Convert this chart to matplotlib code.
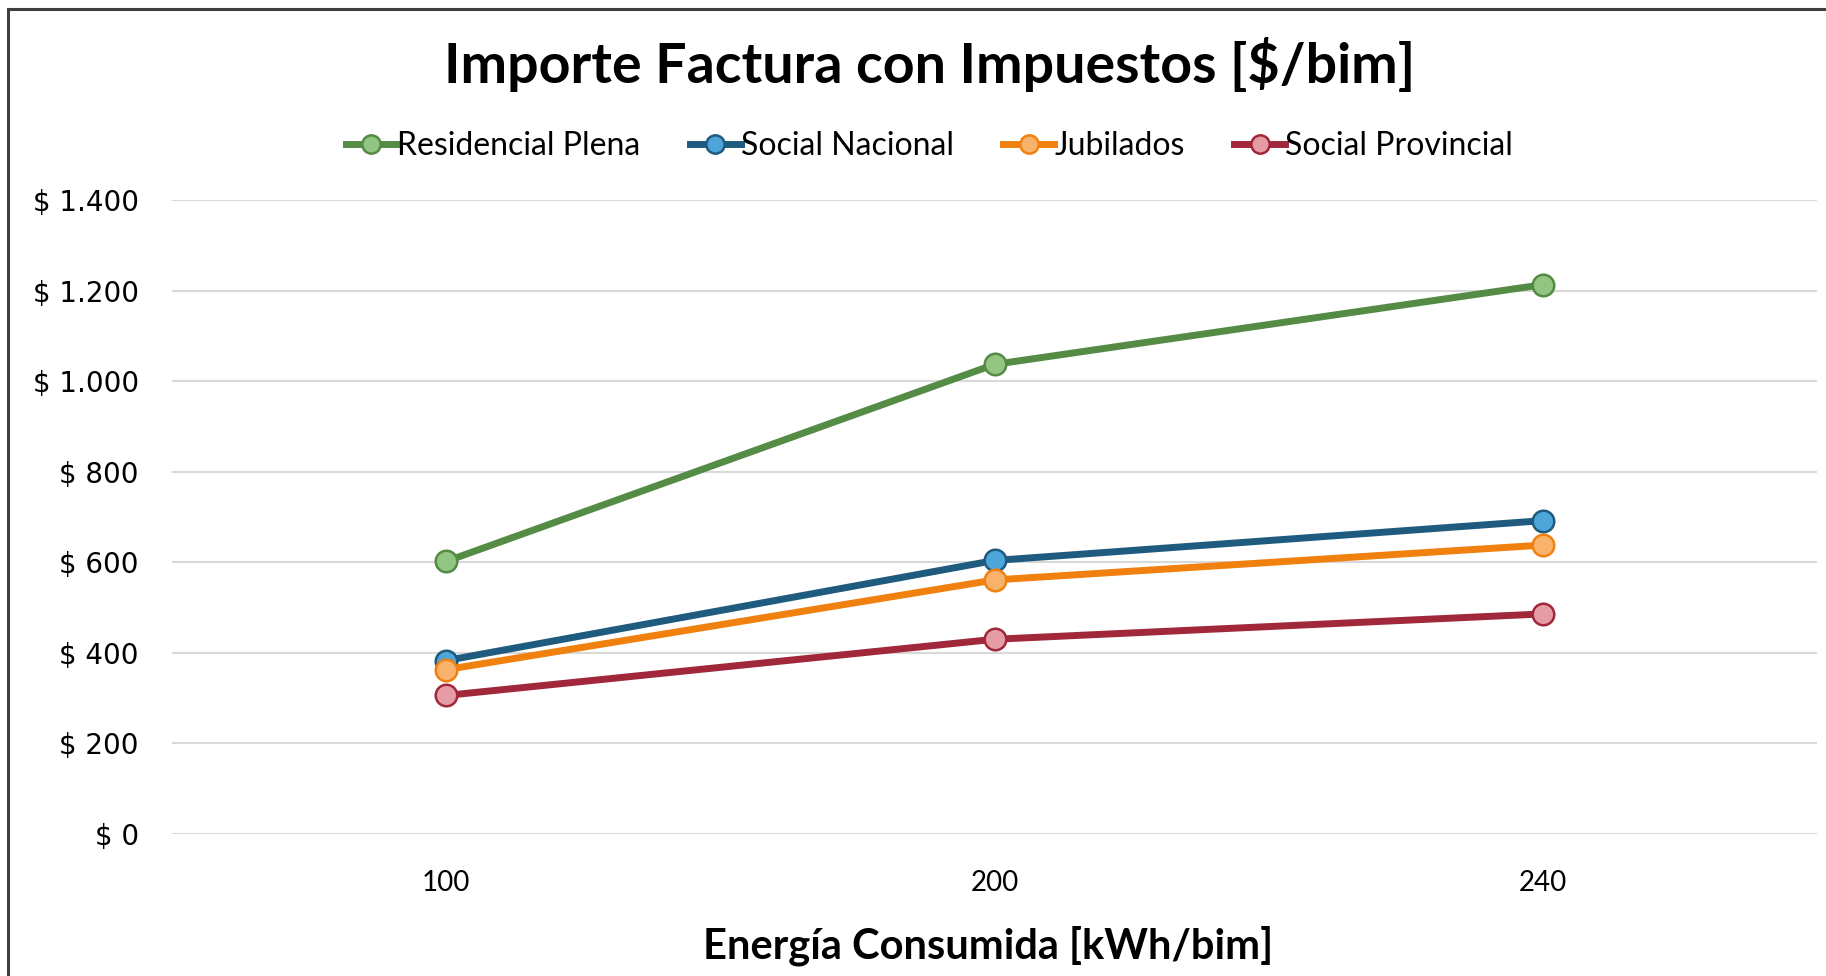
import matplotlib.pyplot as plt
from matplotlib.patches import Rectangle

consumo = ["100", "200", "240"]
residencial_plena = [602, 1037, 1213]
social_nacional = [383, 604, 692]
jubilados = [363, 561, 638]
social_provincial = [306, 430, 486]

series = [
    ("Residencial Plena", residencial_plena, "#548B45", "#92C482"),
    ("Social Nacional", social_nacional, "#1F5A7F", "#4EA5DA"),
    ("Jubilados", jubilados, "#F0810F", "#F8B26C"),
    ("Social Provincial", social_provincial, "#A0283A", "#E59CA4"),
]

cal = ["Lato", "DejaVu Sans"]

fig = plt.figure(figsize=(18.26, 9.76), dpi=100)
ax = fig.add_axes([172 / 1826, 1 - 834 / 976, (1817 - 172) / 1826, (834 - 200) / 976])

x = range(len(consumo))
for name, vals, lc, fc in series:
    ax.plot(x, vals, color=lc, lw=5, marker="o", ms=15.5, mfc=fc, mec=lc, mew=1.8,
            label=name, zorder=3)

ax.set_xlim(-0.5, 2.5)
ax.set_ylim(0, 1400)
ax.set_yticks(range(0, 1401, 200))
ax.set_yticklabels(["$ " + f"{v:,}".replace(",", ".") for v in range(0, 1401, 200)],
                   fontsize=20, family="DejaVu Sans")
ax.set_xticks(list(x))
ax.set_xticklabels(consumo, fontsize=20, family=cal)
ax.tick_params(axis="y", length=0, pad=24)
ax.tick_params(axis="x", length=0, pad=26)
ax.grid(axis="y", color="#D9D9D9", lw=1.5)
ax.set_axisbelow(True)
for s in ax.spines.values():
    s.set_visible(False)

fig.text(0.509, 1 - 64 / 976, "Importe Factura con Impuestos [$/bim]", ha="center", va="center",
         fontsize=40, fontweight="bold", family=cal)
fig.text(0.541, 1 - 946 / 976, "Energía Consumida [kWh/bim]", ha="center", va="center",
         fontsize=30, fontweight="bold", family=cal)

fig.legend(loc="center", bbox_to_anchor=(0.509, 1 - 146 / 976), ncol=4, frameon=False,
           prop={"family": cal, "size": 23}, handlelength=1.6, handletextpad=0.0,
           columnspacing=1.55, markerscale=0.85)

fig.add_artist(Rectangle((8 / 1826, -0.1), 1.2, 1.1 - 9 / 976, transform=fig.transFigure,
                         fill=False, ec="#3F3F3F", lw=2.2))

fig.savefig("out.png", dpi=100)
